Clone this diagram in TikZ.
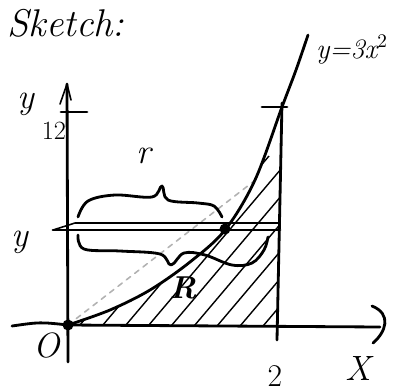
\documentclass[tikz,border=0pt]{standalone}
\usetikzlibrary{positioning}
\begin{document}
\begin{tikzpicture}[
  x=0.02cm, y=-0.02cm,
  ink/.style={line width=1.6pt, line cap=round, line join=round},
  thinink/.style={line width=0.9pt, line cap=round, line join=round},
  hatch/.style={line width=0.8pt},
  lbl/.style={font=\fontsize{20}{22}\selectfont\itshape, inner sep=0pt},
  small/.style={font=\fontsize{15}{17}\selectfont, inner sep=0pt},
  dot/.style={circle, fill, inner sep=0pt, minimum size=0.22cm}
]
\useasboundingbox (0,0) rectangle (393,390);

%% ── Title ─────────────────────────────────────────────────────────────────
\node[lbl, font=\fontsize{22}{24}\selectfont\itshape] (title) at (66,23) {Sketch:};

%% ── Axes ──────────────────────────────────────────────────────────────────
\coordinate (o)    at (68,325);
\coordinate (ytop) at (67,84);
\coordinate (xend) at (380,327);
\draw[ink] (68,362) -- (ytop);
\draw[ink] (12,326) .. controls (40,322) .. (o) -- (xend);
\draw[thinink] (60,104) -- (ytop) -- (71,100);
\draw[ink] (372,306) .. controls (392,314) and (386,332) .. (373,343);
\draw[ink] (61,112) -- (87,112);

\node[lbl] (ylab)  at (26,104) {y};
\node[small] (twelve) at (54,131) {12};
\node[lbl] (zero)  at (47,345) {O};
\node[lbl, font=\fontsize{18}{20}\selectfont] (two) at (275,376) {2};
\node[lbl] (xlab)  at (358,368) {X};

%% ── Region under the curve ────────────────────────────────────────────────
\begin{scope}
  \clip plot[smooth, tension=0.55] coordinates
        {(68,325) (110,310) (150,290) (190,262) (225,230) (255,180) (282,107)}
        -- (277,327) -- cycle;
  \foreach \a in {0,23,...,280}
    \draw[hatch] (40+\a,345) -- ++(160,-189);
\end{scope}

%% faint guide line
\draw[thinink, gray!60, dashed] (o) -- (258,178);

%% ── Curve and x = 2 ───────────────────────────────────────────────────────
\draw[ink] plot[smooth, tension=0.55] coordinates
      {(68,325) (110,310) (150,290) (190,262) (225,230) (255,180) (282,107) (296,70) (308,35)};
\draw[ink] (282,103) -- (277,340);
\draw[ink] (262,107) -- (287,107);
\node[lbl, font=\fontsize{16}{18}\selectfont\itshape] (curve) at (352,50) {y=3x$^2$};

%% ── Strip at height y ─────────────────────────────────────────────────────
\draw[ink] (53,230) -- (280,230);
\draw[thinink] (53,230) -- (75,223) -- (280,223);
\node[lbl] (ystrip) at (20,242) {y};
\node[dot] (origin) at (o) {};
\node[dot] (hit) at (225,229) {};

%% ── Braces ────────────────────────────────────────────────────────────────
\draw[ink] plot[smooth, tension=0.6] coordinates
      {(78,217) (88,201) (115,195) (152,197) (162,186) (168,200) (198,203) (214,206) (222,217)};
\draw[ink] plot[smooth, tension=0.6] coordinates
      {(78,235) (84,249) (120,251) (160,254) (171,265) (184,253) (205,255) (232,265) (252,263) (264,250) (268,237)};
\node[lbl] (rlab) at (144,156) {r};
\node[lbl, font=\fontsize{18}{20}\selectfont\bfseries\itshape] (bigr) at (183,288) {R};

\end{tikzpicture}
\end{document}
